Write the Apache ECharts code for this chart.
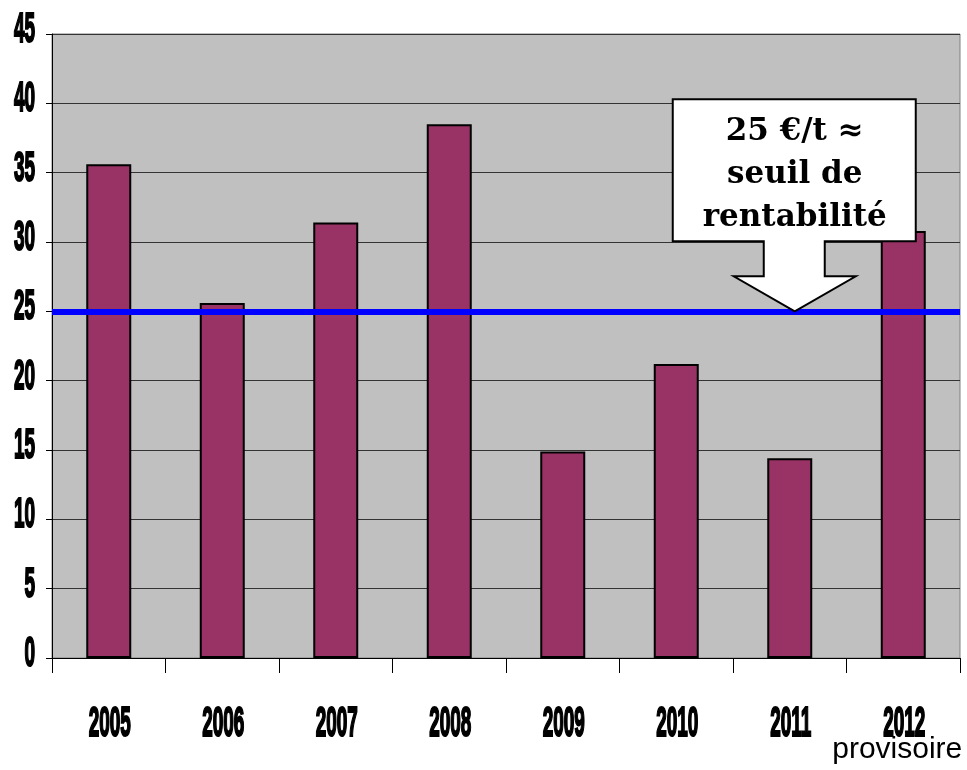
<!DOCTYPE html>
<html>
<head>
<meta charset="utf-8">
<script src="https://cdn.jsdelivr.net/npm/echarts@6/dist/echarts.min.js"></script>
<style>
  html, body { margin: 0; padding: 0; background: #fff; }
  #main { width: 967px; height: 770px; }
</style>
</head>
<body>
<div id="main"></div>
<script>
// données
var years = ['2005', '2006', '2007', '2008', '2009', '2010', '2011', '2012'];
var prices = [35.6, 25.6, 31.4, 38.5, 14.9, 21.2, 14.4, 30.8];
var yTicks = [0, 5, 10, 15, 20, 25, 30, 35, 40, 45];
var seuil = 25;
var calloutLines = ['25 €/t ≈', 'seuil de', 'rentabilité'];
var noteText = 'provisoire';

// police étroite simulée (pas d'Arial Narrow ici) : Liberation Sans gras compressé
var narrow = { fontFamily: 'Liberation Sans', fontWeight: 'bold', fontSize: 43, fill: '#000', stroke: '#000', lineWidth: 2.2 };
var squeeze = 0.44;

var myChart = echarts.init(document.getElementById('main'));
myChart.setOption({
  animation: false,
  grid: {
    left: 52,
    right: 7,
    top: 34,
    bottom: 112,
    show: true,
    backgroundColor: '#c0c0c0',
    borderColor: '#808080',
    borderWidth: 1
  },
  xAxis: {
    type: 'category',
    data: years,
    axisLine: { lineStyle: { color: '#000', width: 1 } },
    axisTick: { show: true, length: 15, lineStyle: { color: '#000' } },
    axisLabel: { show: false }
  },
  yAxis: {
    type: 'value',
    min: yTicks[0],
    max: yTicks[yTicks.length - 1],
    interval: 5,
    axisLine: { show: true, lineStyle: { color: '#000', width: 1 } },
    axisTick: { show: true, length: 6, lineStyle: { color: '#000' } },
    splitLine: { lineStyle: { color: '#333', width: 1 } },
    axisLabel: { show: false }
  },
  series: [{
    type: 'bar',
    data: prices,
    barWidth: 45,
    itemStyle: { color: '#993366', borderColor: '#000', borderWidth: 2 },
    markLine: {
      silent: true,
      symbol: 'none',
      label: { show: false },
      lineStyle: { color: '#0000ff', width: 6, type: 'solid' },
      data: [{ yAxis: seuil }]
    }
  }]
});

var graphics = [];

// étiquettes de l'axe des valeurs
yTicks.forEach(function (v) {
  var y = myChart.convertToPixel({ yAxisIndex: 0 }, v);
  graphics.push({
    type: 'text',
    x: 35,
    y: y - 4,
    scaleX: squeeze,
    style: Object.assign({ text: String(v), align: 'right', verticalAlign: 'middle' }, narrow)
  });
});

// étiquettes des années
years.forEach(function (yr) {
  var x = myChart.convertToPixel({ xAxisIndex: 0 }, yr);
  graphics.push({
    type: 'text',
    x: x + 1,
    y: 724,
    scaleX: squeeze,
    style: Object.assign({ text: yr, align: 'center', verticalAlign: 'middle' }, narrow)
  });
});

// mention "provisoire" sous 2012
var x2012 = myChart.convertToPixel({ xAxisIndex: 0 }, years[years.length - 1]);
graphics.push({
  type: 'text',
  x: x2012 - 6,
  y: 750,
  style: { text: noteText, fontFamily: 'Liberation Sans', fontSize: 30, fill: '#000', align: 'center', verticalAlign: 'middle' },
  z: 102
});

// bulle "seuil de rentabilité" pointant sur la ligne
var tip = myChart.convertToPixel({ gridIndex: 0 }, ['2011', seuil]);
var tx = tip[0] + 5, ty = tip[1];
graphics.push({
  type: 'polygon',
  shape: {
    points: [
      [tx - 122, ty - 212], [tx + 121, ty - 212], [tx + 121, ty - 70],
      [tx + 30, ty - 70], [tx + 30, ty - 35], [tx + 61, ty - 35],
      [tx, ty], [tx - 61, ty - 35], [tx - 31, ty - 35], [tx - 31, ty - 70],
      [tx - 122, ty - 70]
    ]
  },
  style: { fill: '#fff', stroke: '#000', lineWidth: 2 },
  z: 100
}, {
  type: 'text',
  x: tx,
  y: ty - 136,
  style: {
    text: calloutLines.join('\n'),
    fontFamily: 'DejaVu Serif',
    fontWeight: 'bold',
    fontSize: 31,
    lineHeight: 43,
    fill: '#000',
    align: 'center',
    verticalAlign: 'middle'
  },
  z: 101
});

myChart.setOption({ graphic: graphics });
</script>
</body>
</html>
